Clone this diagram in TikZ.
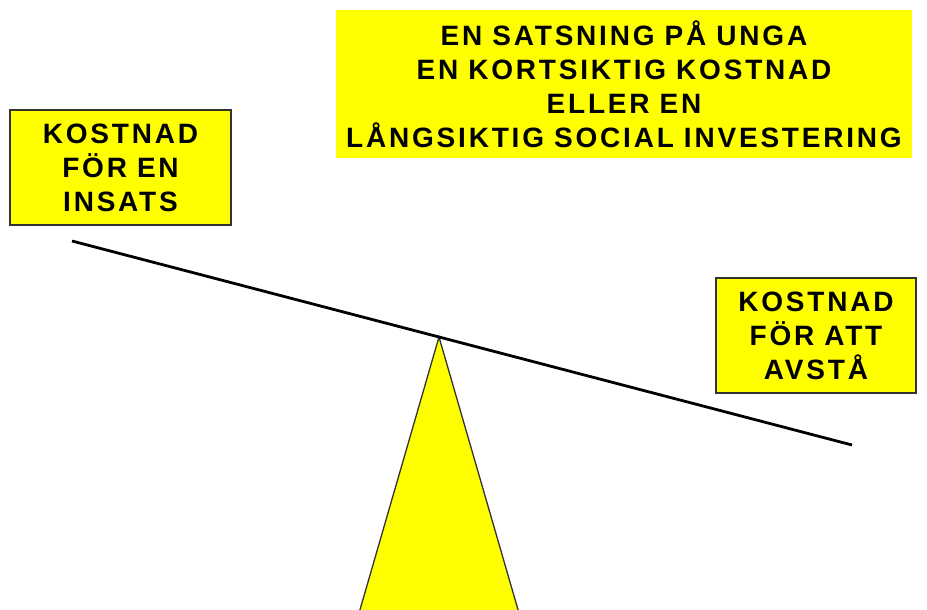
\documentclass[tikz,border=0pt]{standalone}
\usepackage{fontspec}
\usetikzlibrary{calc}
\setmainfont{Liberation Sans}[LetterSpace=10,WordSpace=0.95]
\definecolor{boxyellow}{HTML}{FFFF00}
\definecolor{edgegray}{HTML}{333333}
\begin{document}
\begin{tikzpicture}[x=1pt,y=-1pt,
  lbl/.style={font=\fontsize{28}{34}\selectfont\bfseries, align=center, inner sep=0pt},
  ybox/.style={fill=boxyellow, draw=edgegray, line width=1.4pt, inner sep=0pt, lbl},
  tbox/.style={fill=boxyellow, inner sep=0pt, lbl}]
\useasboundingbox (0,0) rectangle (927,610);
\fill[white] (0,0) rectangle (927,610);
% beam end points
\coordinate (bl) at (72,241);
\coordinate (br) at (852,445);
\coordinate (apex) at ($(bl)!0.4705!(br)$);
\coordinate (baseL) at (357,620);
\coordinate (baseR) at (521,620);
% fulcrum
\filldraw[fill=boxyellow, draw=edgegray, line width=1.3pt, line join=miter] (baseL) -- (apex) -- (baseR) -- cycle;
% beam
\draw[line width=2.8pt, black] (bl) -- (br);
% boxes
\node[tbox, minimum width=576pt, minimum height=148pt] (title) at (624,84)
  {EN SATSNING PÅ UNGA\\EN KORTSIKTIG KOSTNAD\\ELLER EN\\LÅNGSIKTIG SOCIAL INVESTERING};
\node[ybox, minimum width=221pt, minimum height=115pt] (left) at (120.5,167.5)
  {KOSTNAD\\FÖR EN\\INSATS};
\node[ybox, minimum width=200pt, minimum height=115pt] (right) at (816,335.5)
  {KOSTNAD\\FÖR ATT\\AVSTÅ};
\end{tikzpicture}
\end{document}
